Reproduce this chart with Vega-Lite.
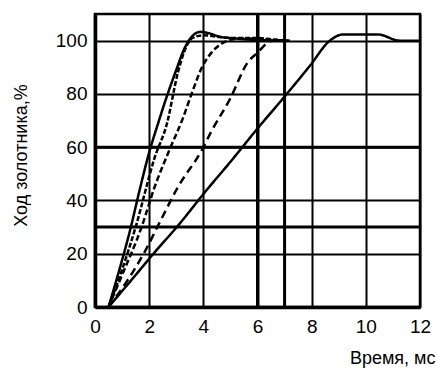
{
  "$schema": "https://vega.github.io/schema/vega-lite/v6.json",
  "width": 325,
  "height": 293,
  "autosize": {"type": "none"},
  "padding": {"left": 95, "top": 14, "right": 16, "bottom": 62},
  "background": "white",
  "config": {
    "view": {"stroke": "black", "strokeWidth": 2.5},
    "font": "Liberation Sans",
    "axis": {
      "grid": true, "gridColor": "black", "gridWidth": 2, "gridOpacity": 1,
      "domain": true, "domainColor": "black", "domainWidth": 3.5,
      "ticks": false, "tickSize": 0,
      "labelColor": "black", "labelFontSize": 19, "labelFont": "Liberation Sans",
      "titleColor": "black", "titleFontSize": 18, "titleFontWeight": "normal", "titleFont": "Liberation Sans"
    }
  },
  "layer": [
    {
      "data": {"values": [{"gx": 6}, {"gx": 7}]},
      "mark": {"type": "rule", "color": "black", "strokeWidth": 3},
      "encoding": {"x": {"field": "gx", "type": "quantitative"}}
    },
    {
      "data": {"values": [{"gy": 30}, {"gy": 60}]},
      "mark": {"type": "rule", "color": "black", "strokeWidth": 3},
      "encoding": {"y": {"field": "gy", "type": "quantitative"}}
    },
    {
      "data": {"values": [
        {"series": "A", "x": 0.5, "y": 0}, {"series": "A", "x": 0.9, "y": 14}, {"series": "A", "x": 1.3, "y": 29},
        {"series": "A", "x": 1.65, "y": 44}, {"series": "A", "x": 2.0, "y": 58}, {"series": "A", "x": 2.3, "y": 68},
        {"series": "A", "x": 2.65, "y": 79}, {"series": "A", "x": 3.0, "y": 89}, {"series": "A", "x": 3.3, "y": 97},
        {"series": "A", "x": 3.6, "y": 101.8}, {"series": "A", "x": 3.9, "y": 103.3}, {"series": "A", "x": 4.2, "y": 102.8},
        {"series": "A", "x": 4.6, "y": 101.5}, {"series": "A", "x": 5.2, "y": 100.8}, {"series": "A", "x": 6.0, "y": 100.2},
        {"series": "A", "x": 7.0, "y": 100},
        {"series": "B", "x": 0.5, "y": 0}, {"series": "B", "x": 1.0, "y": 14}, {"series": "B", "x": 1.5, "y": 30},
        {"series": "B", "x": 2.2, "y": 56}, {"series": "B", "x": 2.66, "y": 69}, {"series": "B", "x": 3.06, "y": 88},
        {"series": "B", "x": 3.3, "y": 96}, {"series": "B", "x": 3.6, "y": 101}, {"series": "B", "x": 4.0, "y": 102},
        {"series": "B", "x": 4.5, "y": 101.5}, {"series": "B", "x": 5.0, "y": 101}, {"series": "B", "x": 6.0, "y": 101},
        {"series": "B", "x": 6.5, "y": 100.5}, {"series": "B", "x": 7.0, "y": 100},
        {"series": "C", "x": 0.5, "y": 0}, {"series": "C", "x": 1.0, "y": 12}, {"series": "C", "x": 1.72, "y": 30},
        {"series": "C", "x": 2.2, "y": 45}, {"series": "C", "x": 2.75, "y": 59}, {"series": "C", "x": 3.25, "y": 71},
        {"series": "C", "x": 3.6, "y": 81}, {"series": "C", "x": 3.95, "y": 90}, {"series": "C", "x": 4.3, "y": 95.5},
        {"series": "C", "x": 4.7, "y": 99}, {"series": "C", "x": 5.1, "y": 100.5}, {"series": "C", "x": 5.6, "y": 100.8},
        {"series": "C", "x": 6.2, "y": 100.5}, {"series": "C", "x": 7.0, "y": 100},
        {"series": "D", "x": 0.5, "y": 0}, {"series": "D", "x": 1.2, "y": 10}, {"series": "D", "x": 1.85, "y": 21},
        {"series": "D", "x": 2.4, "y": 32}, {"series": "D", "x": 3.06, "y": 45}, {"series": "D", "x": 3.95, "y": 59},
        {"series": "D", "x": 4.3, "y": 66}, {"series": "D", "x": 4.98, "y": 78}, {"series": "D", "x": 5.65, "y": 92},
        {"series": "D", "x": 6.0, "y": 95.5}, {"series": "D", "x": 6.35, "y": 99}, {"series": "D", "x": 6.7, "y": 100.3},
        {"series": "D", "x": 7.2, "y": 100},
        {"series": "E", "x": 0.5, "y": 0}, {"series": "E", "x": 1.5, "y": 12}, {"series": "E", "x": 2.2, "y": 20.5},
        {"series": "E", "x": 3.06, "y": 30.5}, {"series": "E", "x": 4.13, "y": 44}, {"series": "E", "x": 5.0, "y": 54.5},
        {"series": "E", "x": 6.0, "y": 67}, {"series": "E", "x": 7.0, "y": 79}, {"series": "E", "x": 7.93, "y": 90.5},
        {"series": "E", "x": 8.67, "y": 100}, {"series": "E", "x": 9.15, "y": 102.3}, {"series": "E", "x": 10.45, "y": 102.3},
        {"series": "E", "x": 11.25, "y": 100}, {"series": "E", "x": 12.0, "y": 100}
      ]},
      "mark": {"type": "line", "color": "black", "strokeWidth": 2.5, "interpolate": "monotone", "clip": true},
      "encoding": {
        "x": {
          "field": "x", "type": "quantitative",
          "scale": {"domain": [0, 12], "nice": false},
          "axis": {
            "values": [0, 1, 2, 3, 4, 5, 6, 7, 8, 9, 10, 11, 12],
            "labelExpr": "datum.value % 2 == 0 ? datum.label : ''",
            "labelPadding": 10,
            "labelFlush": false,
            "title": "Время, мс",
            "titleX": 340, "titleY": 56,
            "titleAlign": "right", "titleBaseline": "alphabetic", "titleAnchor": null
          }
        },
        "y": {
          "field": "y", "type": "quantitative",
          "scale": {"domain": [0, 110], "nice": false},
          "axis": {
            "values": [0, 10, 20, 30, 40, 50, 60, 70, 80, 90, 100, 110],
            "labelExpr": "datum.value % 20 == 0 && datum.value <= 100 ? datum.label : ''",
            "labelPadding": 8,
            "labelFlush": false,
            "title": "Ход золотника,%",
            "titleX": -74, "titleY": 141,
            "titleAngle": -90,
            "titleAlign": "center", "titleBaseline": "middle", "titleAnchor": null
          }
        },
        "detail": {"field": "series"},
        "strokeDash": {
          "field": "series", "type": "nominal", "legend": null,
          "scale": {"domain": ["A", "B", "C", "D", "E"], "range": [[1, 0], [5, 2], [6, 3], [8, 5], [1, 0]]}
        }
      }
    }
  ]
}
